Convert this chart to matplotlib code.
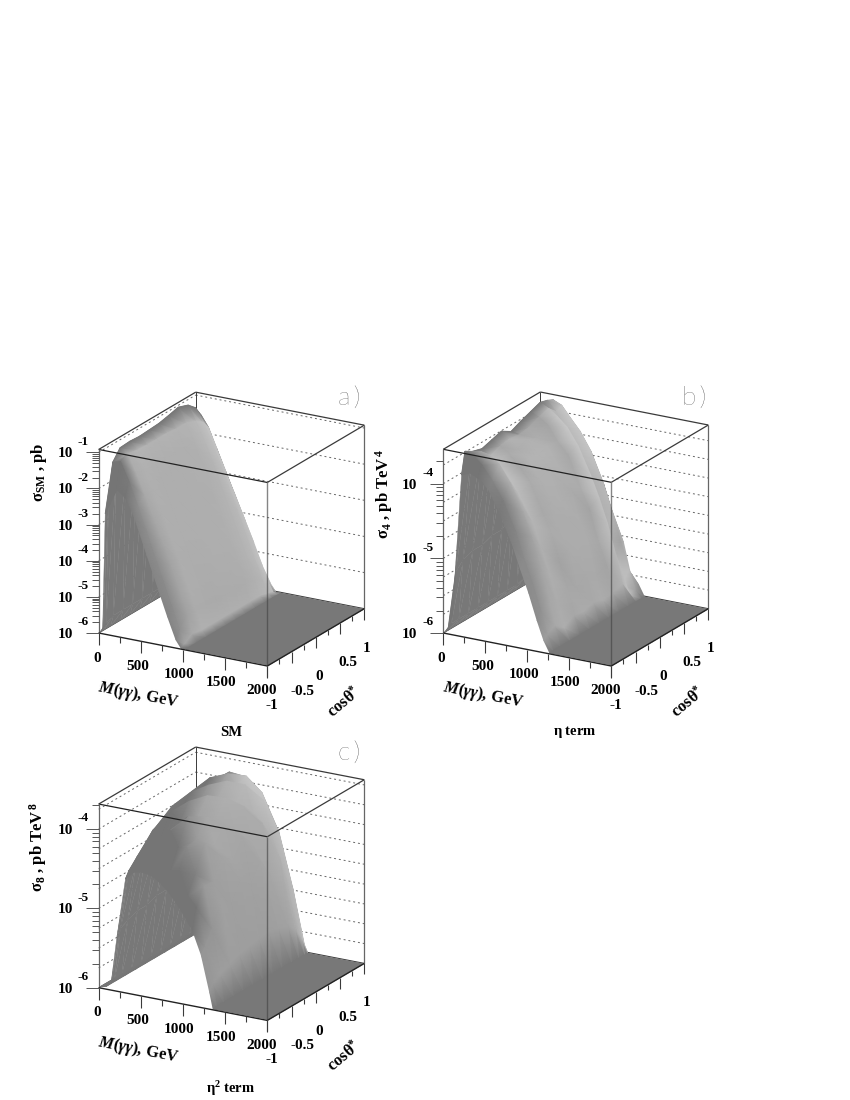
import numpy as np
import matplotlib
matplotlib.use("Agg")
import matplotlib.pyplot as plt
from matplotlib.collections import PolyCollection

plt.rcParams['font.family'] = ['Liberation Serif', 'DejaVu Sans']
plt.rcParams['font.weight'] = 'bold'
plt.rcParams['mathtext.fontset'] = 'custom'
plt.rcParams['mathtext.rm'] = 'Liberation Serif'
plt.rcParams['mathtext.it'] = 'Liberation Serif:italic:bold'
plt.rcParams['mathtext.bf'] = 'Liberation Serif:bold'
plt.rcParams['mathtext.default'] = 'rm'

# cos(theta*) rows, same for the three panels
cos_rows = [-0.97, -0.9, -0.75, -0.55, -0.35, -0.15, 0.05, 0.25, 0.45, 0.65, 0.8, 0.92, 0.98]

# panel a, SM: log10(sigma) per row, one column per mass
mass_sm = [0, 30, 60, 110, 200, 300, 400, 500, 600, 700, 800, 900, 960, 1020, 2000]
log_sm = [
    [-6, -5.9, -2.7, -2.43, -1.95, -2.15, -2.6, -3.25, -3.9, -4.55, -5.2, -5.8, -6, -6, -6],
    [-6, -5.8, -2.4, -1.3, -1.25, -1.75, -2.35, -3.0, -3.65, -4.3, -4.95, -5.6, -5.95, -6, -6],
    [-6, -5.7, -1.9, -1.02, -1.15, -1.65, -2.2, -2.8, -3.4, -4.0, -4.65, -5.3, -5.8, -6, -6],
    [-6, -5.7, -1.9, -1.0, -1.2, -1.7, -2.25, -2.85, -3.45, -4.05, -4.7, -5.35, -5.85, -6, -6],
    [-6, -5.7, -1.9, -1.02, -1.22, -1.72, -2.28, -2.88, -3.48, -4.08, -4.72, -5.38, -5.85, -6, -6],
    [-6, -5.7, -1.9, -1.0, -1.22, -1.72, -2.28, -2.88, -3.48, -4.08, -4.72, -5.38, -5.85, -6, -6],
    [-6, -5.7, -1.9, -0.98, -1.22, -1.73, -2.3, -2.9, -3.5, -4.1, -4.72, -5.38, -5.85, -6, -6],
    [-6, -5.7, -1.9, -0.92, -1.25, -1.75, -2.32, -2.92, -3.52, -4.12, -4.75, -5.4, -5.85, -6, -6],
    [-6, -5.7, -1.9, -0.85, -1.25, -1.75, -2.35, -2.95, -3.55, -4.15, -4.75, -5.4, -5.85, -6, -6],
    [-6, -5.7, -1.9, -0.95, -1.35, -1.85, -2.4, -3.0, -3.6, -4.2, -4.8, -5.45, -5.85, -6, -6],
    [-6, -5.7, -2.0, -1.14, -1.5, -2.0, -2.55, -3.15, -3.75, -4.35, -4.95, -5.55, -5.9, -6, -6],
    [-6, -5.7, -2.3, -1.44, -1.75, -2.3, -2.85, -3.4, -3.95, -4.55, -5.15, -5.65, -5.95, -6, -6],
    [-6, -5.8, -2.6, -1.7, -2.1, -2.61, -3.13, -3.66, -4.2, -4.75, -5.34, -5.8, -6, -6, -6],
]

# panel b, eta term
mass_eta = [0, 40, 90, 200, 300, 400, 520, 650, 800, 900, 1000, 1100, 1180, 1250, 2000]
log_eta = [
    [-6, -5.95, -5.75, -3.85, -3.8, -3.85, -3.97, -4.25, -4.63, -4.95, -5.25, -5.6, -5.85, -6, -6],
    [-6, -5.9, -5.2, -3.56, -3.6, -3.7, -3.88, -4.12, -4.5, -4.85, -5.15, -5.5, -5.8, -6, -6],
    [-6, -5.9, -5.1, -3.62, -3.6, -3.62, -3.72, -3.94, -4.3, -4.6, -4.96, -5.36, -5.74, -6, -6],
    [-6, -5.9, -5.05, -3.66, -3.74, -3.84, -3.98, -4.2, -4.5, -4.82, -5.14, -5.54, -5.84, -6, -6],
    [-6, -5.9, -5.05, -3.62, -3.68, -3.76, -3.9, -4.08, -4.45, -4.7, -5.08, -5.42, -5.76, -6, -6],
    [-6, -5.9, -5.0, -3.58, -3.66, -3.78, -3.86, -4.12, -4.4, -4.8, -4.98, -5.5, -5.78, -6, -6],
    [-6, -5.9, -5.0, -3.66, -3.68, -3.72, -3.9, -4.06, -4.48, -4.68, -5.08, -5.38, -5.74, -6, -6],
    [-6, -5.9, -4.9, -3.6, -3.66, -3.78, -3.86, -4.1, -4.38, -4.78, -5.0, -5.48, -5.78, -6, -6],
    [-6, -5.9, -4.6, -3.55, -3.6, -3.68, -3.88, -4.04, -4.46, -4.7, -5.1, -5.4, -5.76, -6, -6],
    [-6, -5.85, -4.2, -3.5, -3.56, -3.64, -3.76, -3.98, -4.34, -4.62, -4.94, -5.34, -5.72, -6, -6],
    [-6, -5.8, -3.75, -3.53, -3.66, -3.86, -4.1, -4.42, -4.95, -5.25, -5.55, -5.8, -5.92, -6, -6],
    [-6, -5.7, -3.62, -3.57, -3.62, -3.76, -3.92, -4.16, -4.56, -4.9, -5.3, -5.65, -5.9, -6, -6],
    [-6, -5.7, -3.65, -3.64, -3.73, -3.9, -4.13, -4.37, -4.72, -5.07, -5.32, -5.8, -5.85, -6, -6],
]

# panel c, eta^2 term
mass_eta2 = [0, 70, 130, 200, 300, 400, 500, 600, 700, 800, 900, 1000, 1100, 1200, 1300, 1340, 2000]
log_eta2 = [
    [-6, -5.98, -5.92, -5.32, -4.58, -4.47, -4.45, -4.47, -4.53, -4.62, -4.75, -4.9, -5.07, -5.35, -5.8, -6, -6],
    [-6, -5.98, -5.9, -5.25, -4.5, -4.3, -4.12, -4.24, -4.2, -4.4, -4.38, -4.68, -4.8, -5.28, -5.72, -6, -6],
    [-6, -5.98, -5.9, -5.2, -4.45, -4.24, -4.0, -4.08, -3.96, -4.16, -4.14, -4.46, -4.58, -5.1, -5.65, -6, -6],
    [-6, -5.98, -5.9, -5.15, -4.37, -4.08, -4.04, -3.82, -3.94, -3.84, -4.1, -4.14, -4.6, -4.86, -5.6, -6, -6],
    [-6, -5.98, -5.9, -5.15, -4.4, -4.12, -3.84, -3.9, -3.74, -3.92, -3.9, -4.24, -4.36, -4.95, -5.55, -6, -6],
    [-6, -5.98, -5.9, -5.1, -4.36, -4.0, -3.92, -3.72, -3.82, -3.72, -3.98, -4.04, -4.48, -4.7, -5.52, -6, -6],
    [-6, -5.98, -5.9, -5.1, -4.38, -4.1, -3.8, -3.8, -3.68, -3.84, -3.8, -4.15, -4.26, -4.85, -5.5, -6, -6],
    [-6, -5.98, -5.9, -5.1, -4.35, -4.02, -3.9, -3.68, -3.76, -3.68, -3.94, -3.96, -4.4, -4.62, -5.48, -6, -6],
    [-6, -5.98, -5.9, -5.15, -4.36, -4.12, -3.82, -3.8, -3.68, -3.82, -3.78, -4.12, -4.22, -4.86, -5.5, -6, -6],
    [-6, -5.98, -5.9, -5.15, -4.4, -4.04, -3.95, -3.75, -3.84, -3.76, -4.0, -4.02, -4.48, -4.72, -5.55, -6, -6],
    [-6, -5.98, -5.9, -5.2, -4.4, -4.16, -3.9, -3.94, -3.84, -4.02, -4.0, -4.34, -4.45, -5.1, -5.65, -6, -6],
    [-6, -5.98, -5.9, -5.2, -4.42, -4.12, -4.04, -3.94, -4.06, -4.06, -4.36, -4.44, -4.95, -5.2, -5.8, -6, -6],
    [-6, -5.98, -5.9, -5.25, -4.45, -4.2, -4.02, -4.05, -4.18, -4.45, -4.62, -4.98, -5.05, -5.68, -5.9, -6, -6],
]

mass_labels = [0, 500, 1000, 1500, 2000]
cos_labels = [-1, -0.5, 0, 0.5, 1]
cos_label_dx = [5, 10.7, 3.2, 8.3, 2.4]

LIGHT = np.array([0.6, 0.55, 0.58])
UNDER = 0.47
FLOOR = 0.47


def make_projection(origin, mass_vec, cos_vec, decade):
    def project(m, c, z):
        u = np.asarray(m) / 2000.0
        v = (np.asarray(c) + 1) / 2.0
        x = origin[0] + u * mass_vec[0] + v * cos_vec[0]
        y = origin[1] + u * mass_vec[1] + v * cos_vec[1] - (np.asarray(z) + 6) * decade
        return x, y
    return project


def draw_surface(ax, project, mass, table, ztop):
    M, C = np.meshgrid(mass, cos_rows)
    Z = np.array(table, dtype=float)
    X, Y = project(M, C, Z)

    # shading from the normal, in box units
    zbox = (Z + 6) / (ztop + 6)
    dz_dc, dz_dm = np.gradient(zbox, np.array(cos_rows) / 2.0, np.array(mass) / 2000.0)
    norm = np.sqrt(dz_dm**2 + dz_dc**2 + 1)
    lit = (-dz_dm * LIGHT[0] - dz_dc * LIGHT[1] + LIGHT[2]) / norm
    shade = 0.32 + 0.46 * np.clip(lit, 0.3, 1)
    shade[Z <= -6] = FLOOR

    n_c, n_m = Z.shape
    idx = np.arange(n_c * n_m).reshape(n_c, n_m)
    top, under = [], []
    # back rows first, low mass first
    for i in range(n_c - 2, -1, -1):
        for j in range(n_m - 1):
            a, b, c, d = idx[i, j], idx[i, j + 1], idx[i + 1, j + 1], idx[i + 1, j]
            for tri in ([a, b, c], [a, c, d]):
                xs, ys = X.ravel()[tri], Y.ravel()[tri]
                area = (xs[1] - xs[0]) * (ys[2] - ys[0]) - (xs[2] - xs[0]) * (ys[1] - ys[0])
                if area < 0:
                    top.append(tri)
                else:
                    under.append(tri)

    polys = [np.column_stack((X.ravel()[t], Y.ravel()[t])) for t in under]
    ax.add_collection(PolyCollection(polys, facecolors=str(UNDER), edgecolors=str(UNDER),
                                     linewidths=0.3, zorder=3))
    ax.tripcolor(X.ravel(), Y.ravel(), np.array(top), shade.ravel(), shading='gouraud',
                 cmap='gray', vmin=0, vmax=1, zorder=4)


def draw_panel(ax, project, mass, table, ztop, grid_step, exponents, ylabel, ylabel_pos,
               caption, caption_pos, tag, tag_pos):
    line = '#3a3a3a'
    Af, Bf = project(0, -1, -6), project(2000, -1, -6)
    Cf, Df = project(2000, 1, -6), project(0, 1, -6)
    At, Bt = project(0, -1, ztop), project(2000, -1, ztop)
    Ct, Dt = project(2000, 1, ztop), project(0, 1, ztop)

    def seg(p, q, **kw):
        ax.plot([p[0], q[0]], [p[1], q[1]], solid_capstyle='butt', **kw)

    # dashed walls first, the surface hides them
    for z in np.arange(-6 + grid_step, ztop, grid_step):
        dash = dict(color='#666666', lw=0.7, ls=(0, (2, 3)), zorder=1)
        seg(project(0, -1, z), project(0, 1, z), **dash)
        seg(project(0, 1, z), project(2000, 1, z), **dash)

    seg(Df, Dt, color=line, lw=0.7, zorder=1)
    seg(Cf, Ct, color='#666666', lw=0.9, zorder=1)
    seg(Df, Cf, color=line, lw=0.8, zorder=1)
    seg(Df, Af, color=line, lw=0.7, zorder=1)
    seg(Dt, Ct, color=line, lw=0.9, zorder=1)
    seg(Dt, At, color=line, lw=0.9, zorder=1)

    draw_surface(ax, project, mass, table, ztop)

    # front edges of the box go over the surface
    seg(At, Bt, color='#222222', lw=0.9, zorder=6)
    seg(Bt, Ct, color=line, lw=0.9, zorder=6)
    seg(Af, At, color='#666666', lw=0.9, zorder=6)
    seg(Bf, Bt, color='#444444', lw=1.0, alpha=0.65, zorder=6)
    seg(Af, Bf, color='#222222', lw=1.0, zorder=6)
    seg(Bf, Cf, color='#222222', lw=1.0, zorder=6)

    # mass axis
    for m in range(0, 2001, 250):
        p = project(m, -1, -6)
        length = 12 if m % 500 == 0 else 6
        seg(p, (p[0], p[1] + length), color=line, lw=0.8, zorder=6)
    for m in mass_labels:
        p = project(m, -1, -6)
        ax.text(p[0] - 2 - m * 0.0017, p[1] + 25, str(m), ha='center', va='center', fontsize=11)

    # cos axis
    for i in range(9):
        p = project(2000, -1 + i * 0.25, -6)
        length = 11 if i % 2 == 0 else 5
        seg(p, (p[0], p[1] + length), color=line, lw=0.8, zorder=6)
    for val, dx in zip(cos_labels, cos_label_dx):
        p = project(2000, val, -6)
        ax.text(p[0] + dx, p[1] + 39.5, f'{val:g}', ha='center', va='center', fontsize=11)

    # log z axis, labels at the full decades
    for n in range(-6, 0):
        for k in range(1, 10):
            z = n + np.log10(k)
            if z > ztop:
                continue
            p = project(0, -1, z)
            length = 13 if k == 1 else 7
            seg((p[0] - length, p[1]), p, color='#555555', lw=0.7, zorder=6)
    for n in exponents:
        p = project(0, -1, n)
        ax.text(p[0] - 33.5, p[1] + 1.5, '10', ha='center', va='center', fontsize=11)
        ax.text(p[0] - 15.5, p[1] - 10.7, str(n), ha='center', va='center', fontsize=9.5)

    ax.text(Af[0] + 40, Af[1] + 62, r'$\mathit{M(\gamma\gamma)}$, GeV', rotation=-11, ha='center', va='center', fontsize=12)
    ax.text(Bf[0] + 77, Bf[1] + 36, r'cos$\theta^{*}$', rotation=40, ha='center', va='center', fontsize=12)
    ax.text(ylabel_pos[0], ylabel_pos[1], ylabel, rotation=90, ha='center', va='center', fontsize=12)
    ax.text(caption_pos[0], caption_pos[1], caption, ha='center', va='center', fontsize=10.5)
    ax.text(tag_pos[0], tag_pos[1], tag, ha='center', va='center', fontsize=19, color='#222222',
            family='Lato', weight='light')


fig = plt.figure(figsize=(8.5, 11), dpi=100)
ax = fig.add_axes([0, 0, 1, 1])

project_a = make_projection((98.7, 633), (168.6, 33), (97, -57.3), 36.13)
draw_panel(ax, project_a, mass_sm, log_sm, -0.92, 1.0, [-1, -2, -3, -4, -5, -6],
           r'$\sigma_{\mathbf{SM}}$ , pb', (39, 472), 'SM', (231, 732), 'a\u2009)', (349, 398))

project_b = make_projection((443.3, 633), (168, 33), (97, -57.3), 74.67)
draw_panel(ax, project_b, mass_eta, log_eta, -3.54, 0.25, [-4, -5, -6],
           r'$\sigma_{\mathbf{4}}$ , pb TeV$^{\,\mathbf{4}}$', (384, 494), r'$\eta$ term', (575, 732), 'b\u2009)', (694, 398))

project_c = make_projection((98.7, 987.7), (168.6, 32.7), (97, -57), 79.33)
draw_panel(ax, project_c, mass_eta2, log_eta2, -3.685, 0.25, [-4, -5, -6],
           r'$\sigma_{\mathbf{8}}$ , pb TeV$^{\,\mathbf{8}}$', (38, 847), r'$\eta^{2}$ term', (231, 1089), 'c\u2009)', (349, 753))

ax.set_xlim(0, 850)
ax.set_ylim(1100, 0)
ax.axis('off')
fig.savefig('out.png', dpi=100)
